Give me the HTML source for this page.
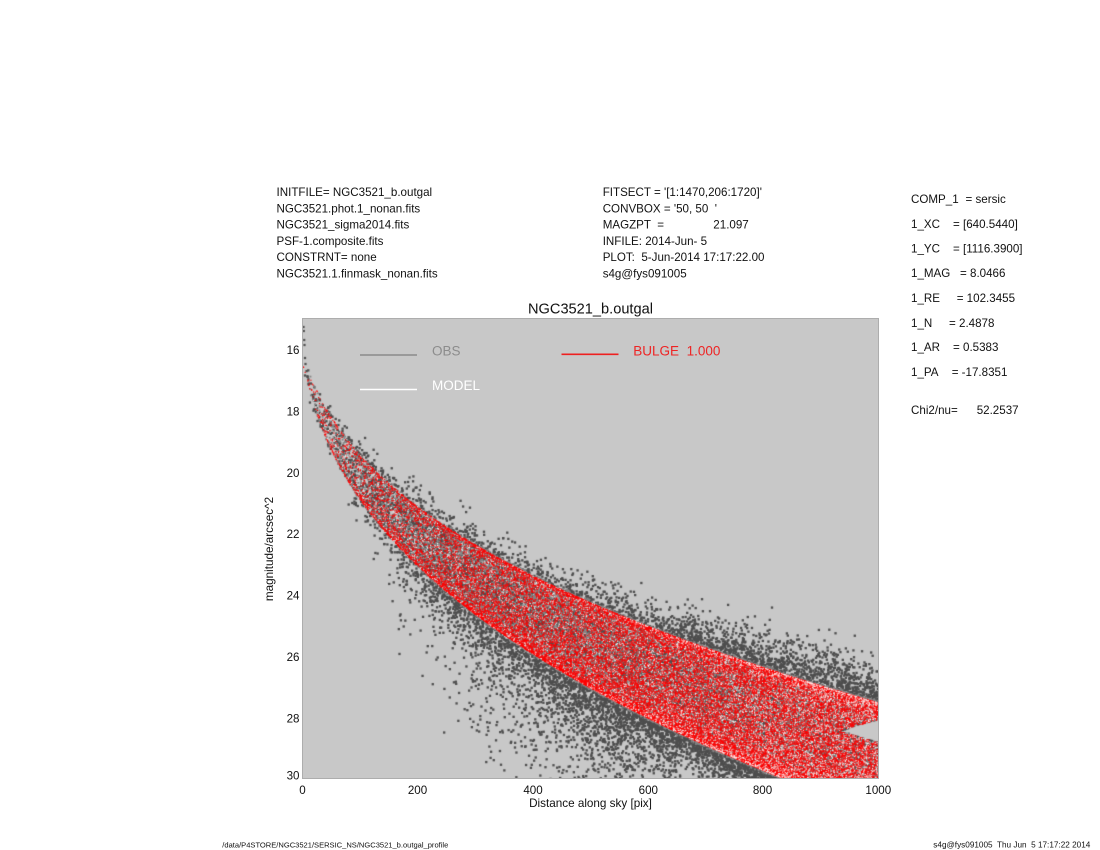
<!DOCTYPE html>
<html><head><meta charset="utf-8">
<style>
html,body{margin:0;padding:0;background:#fff;}
#wrap{position:relative;width:1100px;height:850px;overflow:hidden;background:#fff;}
svg{position:absolute;left:0;top:0;}
#c{position:absolute;left:302px;top:318px;}
text{font-family:"Liberation Sans",Arial,sans-serif;white-space:pre;}
</style></head><body>
<div id="wrap">
<svg width="1100" height="850">
  <rect x="302" y="318" width="577" height="461" fill="#c8c8c8"/>
  <polygon fill="#d85050" points="302,366.6 313.5,384 330.8,416.4 359.6,454.5 417.2,506.8 474.8,544.5 532.4,575.8 590,602.5 647.6,626.3 705.2,647.8 762.8,667.5 820.4,685.7 878,703 878,779 780,779 762.8,770 705.2,744.8 647.6,717.5 590,687.4 532.4,653.3 474.8,613.7 417.2,565.1 359.6,498.4 330.8,448.6 313.5,402.8 302,370"/>
</svg>
<canvas id="c" width="577" height="461"></canvas>
<svg width="1100" height="850">
  <rect x="302.5" y="318.5" width="576" height="460" fill="none" stroke="#adadad" stroke-width="1"/>
  <g font-size="11.6" fill="#111">
    <text x="276.5" y="196">INITFILE= NGC3521_b.outgal</text>
    <text x="276.5" y="212.3">NGC3521.phot.1_nonan.fits</text>
    <text x="276.5" y="228.6">NGC3521_sigma2014.fits</text>
    <text x="276.5" y="244.9">PSF-1.composite.fits</text>
    <text x="276.5" y="261.2">CONSTRNT= none</text>
    <text x="276.5" y="277.5">NGC3521.1.finmask_nonan.fits</text>
    <text x="602.7" y="196">FITSECT = '[1:1470,206:1720]'</text>
    <text x="602.7" y="212.3">CONVBOX = '50, 50  '</text>
    <text x="602.7" y="228.6">MAGZPT  =</text>
    <text x="713.3" y="228.6">21.097</text>
    <text x="602.7" y="244.9">INFILE: 2014-Jun- 5</text>
    <text x="602.7" y="261.2">PLOT:  5-Jun-2014 17:17:22.00</text>
    <text x="602.7" y="277.5">s4g@fys091005</text>
    <text x="911" y="203">COMP_1</text><text x="965.5" y="203">= sersic</text>
    <text x="911" y="228">1_XC</text><text x="953" y="228">= [640.5440]</text>
    <text x="911" y="252.5">1_YC</text><text x="953" y="252.5">= [1116.3900]</text>
    <text x="911" y="277">1_MAG</text><text x="960" y="277">= 8.0466</text>
    <text x="911" y="302">1_RE</text><text x="956.7" y="302">= 102.3455</text>
    <text x="911" y="327">1_N</text><text x="949" y="327">= 2.4878</text>
    <text x="911" y="351">1_AR</text><text x="953" y="351">= 0.5383</text>
    <text x="911" y="376">1_PA</text><text x="951.7" y="376">= -17.8351</text>
    <text x="911" y="414">Chi2/nu=</text><text x="976.7" y="414">52.2537</text>
  </g>
  <text x="590.5" y="313.3" font-size="14.6" fill="#111" text-anchor="middle">NGC3521_b.outgal</text>
  <line x1="360" y1="355" x2="417" y2="355" stroke="#8a8a8a" stroke-width="1.6"/>
  <text x="432" y="355.7" font-size="13.5" fill="#8c8c8c">OBS</text>
  <line x1="360" y1="389.5" x2="417" y2="389.5" stroke="#ffffff" stroke-width="1.6"/>
  <text x="432" y="390" font-size="13.5" fill="#ffffff">MODEL</text>
  <line x1="561.5" y1="354.3" x2="618.5" y2="354.3" stroke="#ee2020" stroke-width="1.6"/>
  <text x="633.3" y="355.7" font-size="13.5" fill="#ee2424">BULGE  1.000</text>
  <g font-size="11.6" fill="#111" text-anchor="end">
    <text x="299.5" y="354">16</text>
    <text x="299.5" y="415.3">18</text>
    <text x="299.5" y="476.8">20</text>
    <text x="299.5" y="538.2">22</text>
    <text x="299.5" y="599.7">24</text>
    <text x="299.5" y="661">26</text>
    <text x="299.5" y="722.3">28</text>
    <text x="299.5" y="779.5">30</text>
  </g>
  <g font-size="11.6" fill="#111" text-anchor="middle">
    <text x="302.5" y="794">0</text>
    <text x="417.5" y="794">200</text>
    <text x="533" y="794">400</text>
    <text x="648.3" y="794">600</text>
    <text x="762.5" y="794">800</text>
    <text x="878.3" y="794">1000</text>
  </g>
  <text x="590.5" y="807" font-size="11.7" fill="#111" text-anchor="middle">Distance along sky [pix]</text>
  <text transform="translate(273,549) rotate(-90)" font-size="11.7" fill="#111" text-anchor="middle">magnitude/arcsec^2</text>
  <text x="222.3" y="847.5" font-size="7.6" fill="#111" textLength="226" lengthAdjust="spacingAndGlyphs">/data/P4STORE/NGC3521/SERSIC_NS/NGC3521_b.outgal_profile</text>
  <text x="933.3" y="847.5" font-size="8" fill="#111" textLength="157" lengthAdjust="spacingAndGlyphs">s4g@fys091005  Thu Jun  5 17:17:22 2014</text>
</svg>
</div>
<script>
(function(){
var cv=document.getElementById('c');
if(!cv||!cv.getContext)return;
var ctx=cv.getContext('2d');
var W=577,H=461;
ctx.fillStyle='#c8c8c8';ctx.fillRect(0,0,W,H);
var s=987654321;
function rnd(){s^=s<<13;s^=s>>>17;s^=s<<5;return (s>>>0)/4294967296;}
function g(){var u=rnd();if(u<1e-12)u=1e-12;return Math.sqrt(-2*Math.log(u))*Math.cos(6.283185307*rnd());}
var q=0.55;
function mag(r){var re=Math.sqrt(r*r+225);return 14.10+5.37*Math.pow(re/102.35,0.402);}
function ang(d){var t=rnd()*6.283185307;var c=Math.cos(t),sn=Math.sin(t);return d*Math.sqrt(c*c+sn*sn/(q*q));}
function samp(){var d=1000*Math.sqrt(rnd());return [d,ang(d)];}
function sampObs(){var d;while(true){d=1000*rnd();if(rnd()<Math.min(d,720)/720)break;}return [d,ang(d)];}
function notch(x,y){return x>538&&Math.abs(y-413)<(x-538)*0.30;}
function pt(x,y,sz){ctx.fillRect(x-sz/2,y-sz/2,sz,sz);}
var i,a,d,m0,m,x,y,e,sig,dm,t,pt2,sc;
ctx.fillStyle='#4e4e4e';
for(i=0;i<24000;i++){
  a=sampObs();d=a[0];m0=mag(a[1]);
  dm=Math.max(0,m0-17.5);
  t=Math.max(0,m0-24);
  sig=0.08+0.05*dm+0.02*Math.min(9,t*t);
  e=sig*g();
  if(d>550&&e>0&&a[1]/Math.max(d,1)>1.4)e*=0.5;
  pt2=(d>150&&d<650)?0.4:0.15;
  if(rnd()<pt2){sc=Math.min(1.6,0.3+0.32*Math.max(0,m0-21));e+=-Math.log(rnd()+1e-9)*sc;}
  if(d>40&&d<300&&rnd()<0.45)e-=Math.abs(g())*0.3;
  m=m0+e;x=d*0.576;y=(m-15)*30.73;
  if(y<0||y>H||notch(x,y))continue;
  pt(x,y,2.3);
}
var extra=[[1.5,9],[1.8,13],[2.2,22],[2.5,27],[3,40],[3.5,46]];
for(i=0;i<extra.length;i++)pt(extra[i][0],extra[i][1],2.2);
ctx.fillStyle='#858585';
for(i=0;i<20000;i++){
  a=samp();m=mag(a[1])+0.04*g();x=a[0]*0.576;y=(m-15)*30.73;
  if(y<0||y>H||notch(x,y))continue;pt(x,y,1.8);
}
ctx.fillStyle='#f6f2f2';
for(i=0;i<8000;i++){
  a=samp();m=mag(a[1]);x=a[0]*0.576;y=(m-15)*30.73;
  if(y<0||y>H||notch(x,y))continue;pt(x,y,1.1);
}
ctx.fillStyle='#ff0000';
for(i=0;i<34000;i++){
  a=samp();m=mag(a[1]);x=a[0]*0.576;y=(m-15)*30.73;
  if(y<0||y>H||notch(x,y))continue;pt(x,y,1.15);
}
ctx.fillStyle='#fbf4f4';
for(i=0;i<9000;i++){
  a=samp();d=a[0];if(rnd()>Math.pow(d/1000,1.5))continue;
  m=mag(a[1]);x=d*0.576;y=(m-15)*30.73;
  if(y<0||y>H||notch(x,y))continue;pt(x,y,1.0);
}
})();
</script>
</body></html>
